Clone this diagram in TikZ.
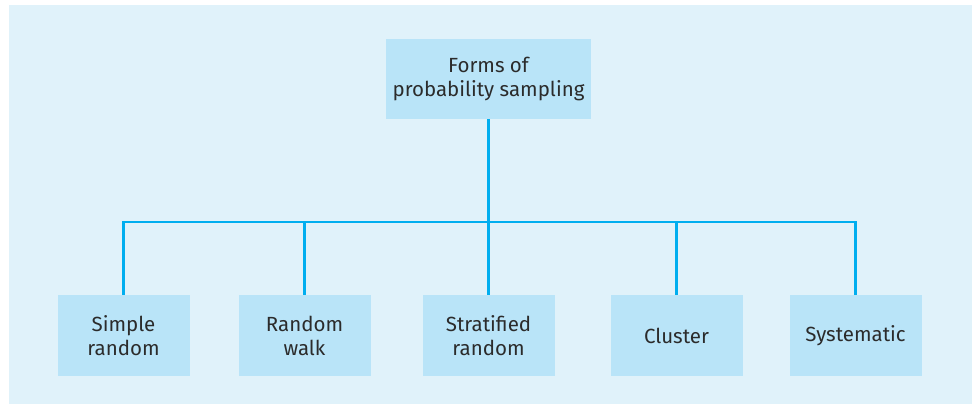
\documentclass[tikz,border=0pt]{standalone}
\usepackage{fontspec}
\setmainfont{Fira Sans}
\usepackage{tikz}
\usetikzlibrary{positioning}
\definecolor{pagebg}{HTML}{E0F2FA}
\definecolor{boxfill}{HTML}{B9E4F8}
\definecolor{linkblue}{HTML}{00AEEF}
\definecolor{textgrey}{HTML}{2B2B2B}

\begin{document}
\begin{tikzpicture}[on grid, node distance=184pt,
		form/.style={fill=boxfill, text=textgrey, align=center, inner sep=0pt,
			minimum width=132pt, minimum height=81pt, font=\fontsize{20.5}{24}\selectfont},
		link/.style={draw=linkblue, line width=2.6pt}]
			\useasboundingbox (0,0) rectangle (972pt,-404pt);
			\fill[pagebg] (9pt,-5pt) rectangle (972pt,-404pt);
			\node[form, minimum width=205pt, minimum height=80pt] (top) at (488.5pt,-79pt) {Forms of\\probability sampling};
			\node[form] (strat) [below=256.5pt of top] {Stratified\\random};
			\node[form] (walk) [left=of strat] {Random\\walk};
			\node[form] (simple) [left=181pt of walk] {Simple\\random};
			\node[form] (cluster) [right=188pt of strat] {Cluster};
			\node[form] (syst) [right=179pt of cluster] {Systematic};
			\path[link]
			(top.south) -- (strat.north)
			(simple.north) -- ++(0,73pt) -| (syst.north)
			(walk.north) -- ++(0,73pt)
			(cluster.north) -- ++(0,73pt);
		\end{tikzpicture}
\end{document}
